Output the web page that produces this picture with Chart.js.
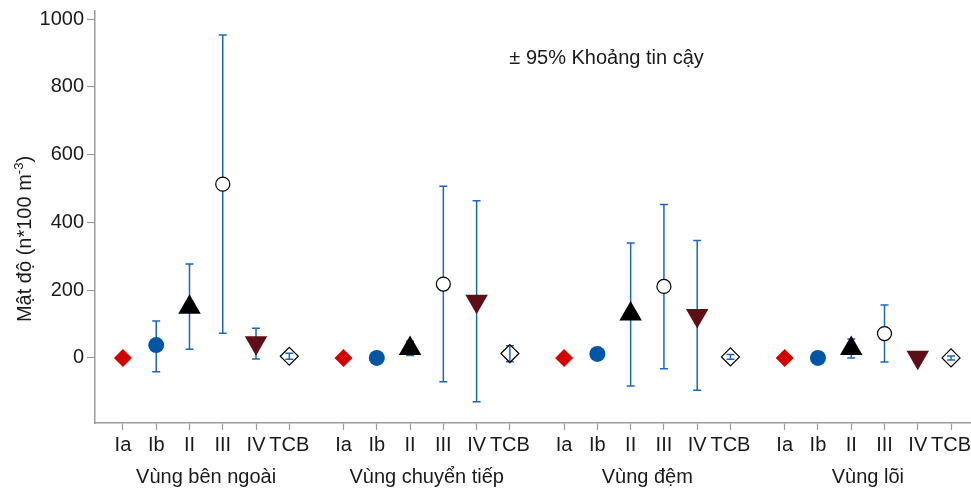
<!DOCTYPE html>
<html lang="vi">
<head>
  <meta charset="UTF-8">
  <title>Mật độ theo vùng</title>
  <script src="https://cdn.jsdelivr.net/npm/chart.js"></script>
  <style>
    html, body { margin: 0; padding: 0; background: #fff; }
    #wrap { width: 971px; height: 488px; }
  </style>
</head>
<body>
  <div id="wrap"><canvas id="chart"></canvas></div>

  <script>
    // zones and classes
    const groups = ['Vùng bên ngoài', 'Vùng chuyển tiếp', 'Vùng đệm', 'Vùng lõi'];
    const categories = ['Ia', 'Ib', 'II', 'III', 'IV', 'TCB'];

    // mean density per class, one value per zone
    const meanIa  = [0, 0, 0, 0];
    const meanIb  = [38, 0, 12, 0];
    const meanII  = [150, 28, 130, 28];
    const meanIII = [513, 218, 211, 72];
    const meanIV  = [45, 167, 125, 2];
    const meanTCB = [5, 13, 3, 0];

    // 95% confidence limits (null = no bar)
    const lowIa  = [null, null, null, null];
    const upIa   = [null, null, null, null];
    const lowIb  = [-41, null, null, null];
    const upIb   = [109, null, null, null];
    const lowII  = [26, 7, -83, 0];
    const upII   = [277, 49, 339, 56];
    const lowIII = [73, -70, -32, -12];
    const upIII  = [953, 507, 453, 156];
    const lowIV  = [-3, -129, -95, null];
    const upIV   = [88, 464, 347, null];
    const lowTCB = [-4, -11, -4, -6];
    const upTCB  = [14, 36, 10, 6];

    const yTicks = [0, 200, 400, 600, 800, 1000];

    const series = [
      { mean: meanIa,  low: lowIa,  up: upIa },
      { mean: meanIb,  low: lowIb,  up: upIb },
      { mean: meanII,  low: lowII,  up: upII },
      { mean: meanIII, low: lowIII, up: upIII },
      { mean: meanIV,  low: lowIV,  up: upIV },
      { mean: meanTCB, low: lowTCB, up: upTCB }
    ];

    const groupGap = 0.63;
    const pos = (g, i) => g * (categories.length + groupGap) + i;
    const positions = [];
    groups.forEach((_, g) => categories.forEach((_, i) => positions.push(pos(g, i))));
    const xMin = -0.84, xMax = pos(groups.length - 1, categories.length - 1) + 0.6;

    const txt = '#1a1a1a';
    const axisGray = '#9a9a9a';
    const barBlue = '#1f66be';
    const fontFam = "'Liberation Sans', Arial, sans-serif";
    Chart.defaults.font.family = fontFam;
    Chart.defaults.color = txt;

    const styles = [
      { pointStyle: 'rectRot',  radius: 9,  bg: '#d40000', border: '#d40000', bw: 0 },
      { pointStyle: 'circle',   radius: 8,  bg: '#0055a5', border: '#0055a5', bw: 0 },
      { pointStyle: 'triangle', radius: 13, bg: '#000000', border: '#000000', bw: 0 },
      { pointStyle: 'circle',   radius: 7,  bg: '#ffffff', border: '#000000', bw: 1.2 },
      { pointStyle: 'triangle', radius: 13, bg: '#5c0f17', border: '#5c0f17', bw: 0, rotation: 180 },
      { pointStyle: 'rectRot',  radius: 9,  bg: 'rgba(0,0,0,0)', border: '#000000', bw: 1.2 }
    ];

    const datasets = series.map((s, i) => ({
      label: categories[i],
      data: s.mean.map((v, g) => ({ x: pos(g, i), y: v })),
      pointStyle: styles[i].pointStyle,
      pointRadius: styles[i].radius,
      pointRotation: styles[i].rotation || 0,
      backgroundColor: styles[i].bg,
      borderColor: styles[i].border,
      borderWidth: styles[i].bw,
      showLine: false
    }));
    // little dash in the middle of the class III circle
    datasets.push({
      label: 'III-dot',
      data: meanIII.map((v, g) => ({ x: pos(g, 3), y: v })),
      pointStyle: 'line',
      pointRadius: 1.5,
      borderColor: '#000',
      borderWidth: 1.2,
      showLine: false
    });

    const errorBars = {
      id: 'errorBars',
      beforeDatasetsDraw(chart) {
        const { ctx, scales: { x, y } } = chart;
        ctx.save();
        ctx.strokeStyle = barBlue;
        ctx.lineWidth = 1.5;
        series.forEach((s, i) => {
          s.mean.forEach((_, g) => {
            if (s.low[g] === null || s.up[g] === null) return;
            const px = x.getPixelForValue(pos(g, i));
            const y1 = y.getPixelForValue(s.low[g]);
            const y2 = y.getPixelForValue(s.up[g]);
            ctx.beginPath();
            ctx.moveTo(px, y1); ctx.lineTo(px, y2);
            ctx.moveTo(px - 4, y1); ctx.lineTo(px + 4, y1);
            ctx.moveTo(px - 4, y2); ctx.lineTo(px + 4, y2);
            ctx.stroke();
          });
        });
        ctx.restore();
      }
    };

    const texts = {
      id: 'texts',
      afterDraw(chart) {
        const { ctx, chartArea: a } = chart;
        ctx.save();
        ctx.fillStyle = txt;
        // confidence note
        ctx.font = '20px ' + fontFam;
        ctx.textAlign = 'center';
        ctx.textBaseline = 'alphabetic';
        ctx.fillText('± 95% Khoảng tin cậy', a.left + (a.right - a.left) * 0.584, a.top + 53);
        // y axis title with superscript
        ctx.translate(31, (a.top + a.bottom) / 2 + 22);
        ctx.rotate(-Math.PI / 2);
        const main = 'Mật độ (n*100 m', sup = '-3', end = ')';
        ctx.font = '20px ' + fontFam;
        const wMain = ctx.measureText(main).width, wEnd = ctx.measureText(end).width;
        ctx.font = '13px ' + fontFam;
        const wSup = ctx.measureText(sup).width;
        let cx = -(wMain + wSup + wEnd) / 2;
        ctx.textAlign = 'left';
        ctx.font = '20px ' + fontFam;
        ctx.fillText(main, cx, 0);
        cx += wMain;
        ctx.font = '13px ' + fontFam;
        ctx.fillText(sup, cx, -8);
        cx += wSup;
        ctx.font = '20px ' + fontFam;
        ctx.fillText(end, cx, 0);
        ctx.restore();
      }
    };

    new Chart(document.getElementById('chart'), {
      type: 'scatter',
      data: { datasets },
      plugins: [errorBars, texts],
      options: {
        responsive: true,
        maintainAspectRatio: false,
        animation: false,
        layout: { autoPadding: false, padding: { top: 11, right: 0, bottom: 0, left: 0 } },
        plugins: { legend: { display: false }, tooltip: { enabled: false } },
        scales: {
          x: {
            type: 'linear', position: 'bottom', weight: 0,
            min: xMin, max: xMax,
            afterBuildTicks: s => { s.ticks = positions.map(p => ({ value: p })); },
            afterFit: s => { s.height = 30; s.paddingLeft = 0; s.paddingRight = 0; },
            ticks: {
              autoSkip: false, maxRotation: 0, minRotation: 0, padding: 3,
              font: { size: 20 }, color: txt,
              callback: (v, i) => categories[i % categories.length]
            },
            grid: { drawOnChartArea: false, tickLength: 7, color: axisGray, tickWidth: 1.2 },
            border: { color: axisGray, width: 1.5 }
          },
          x2: {
            type: 'linear', position: 'bottom', weight: 1,
            min: xMin, max: xMax,
            afterBuildTicks: s => { s.ticks = groups.map((_, g) => ({ value: pos(g, 2.5) })); },
            afterFit: s => { s.height = 35; s.paddingLeft = 0; s.paddingRight = 0; },
            ticks: {
              autoSkip: false, maxRotation: 0, minRotation: 0, padding: 4,
              font: { size: 20 }, color: txt,
              callback: (v, i) => groups[i]
            },
            grid: { display: false },
            border: { display: false }
          },
          y: {
            min: -192, max: 1024,
            afterBuildTicks: s => { s.ticks = yTicks.map(v => ({ value: v })); },
            afterFit: s => { s.width = 95; s.paddingTop = 0; s.paddingBottom = 0; },
            ticks: { padding: 3, font: { size: 20 }, color: txt, callback: v => String(v) },
            grid: { drawOnChartArea: false, tickLength: 8, color: axisGray, tickWidth: 1.2 },
            border: { color: axisGray, width: 1.5 }
          }
        }
      }
    });
  </script>
</body>
</html>
